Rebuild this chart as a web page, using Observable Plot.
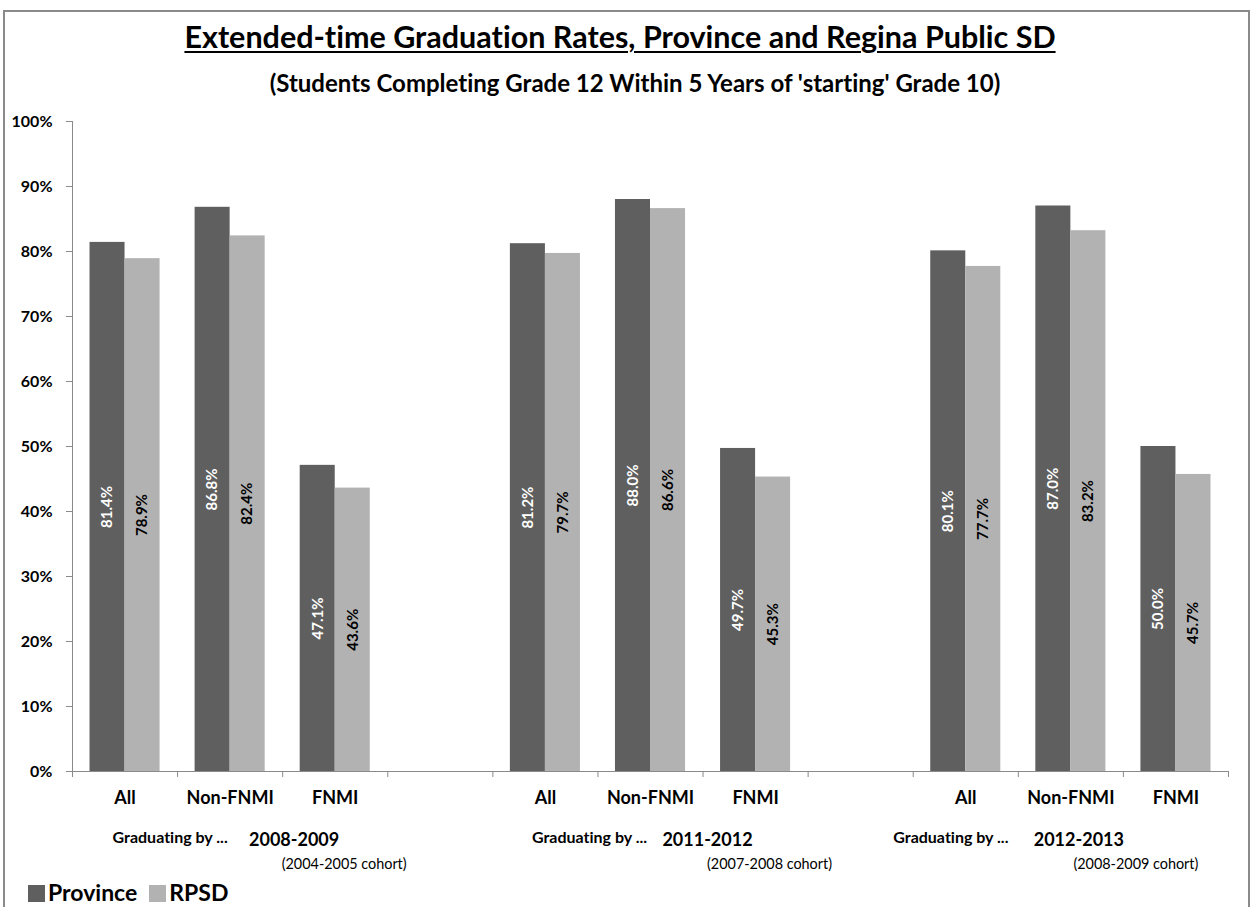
<!DOCTYPE html>
<html><head><meta charset="utf-8">
<script src="https://cdn.jsdelivr.net/npm/d3@7"></script>
<script src="https://cdn.jsdelivr.net/npm/@observablehq/plot@0.6"></script>
<style>
body{margin:0;background:#fff;width:1251px;height:907px;overflow:hidden;position:relative;font-family:Lato,"Open Sans",sans-serif;color:#000;font-variant-ligatures:none;font-feature-settings:"liga" 0;}
#frame{position:absolute;left:3px;top:10px;width:1247px;height:930px;border:2px solid #8a8a8a;box-sizing:border-box;z-index:10;pointer-events:none;}
#title{position:absolute;left:0;width:1240px;top:20px;line-height:32px;text-align:center;font-weight:bold;font-size:30.5px;text-decoration:underline;text-decoration-thickness:2px;text-underline-offset:3px;}
#subtitle{position:absolute;left:0;width:1270px;top:70px;line-height:26px;text-align:center;font-weight:bold;font-size:24px;}
#chart{position:absolute;left:0;top:100px;}
#chart svg text{font-variant-ligatures:none;}
#legend{position:absolute;left:28px;top:879px;font-weight:bold;font-size:23px;line-height:26px;white-space:nowrap;}
#legend span.sw{display:inline-block;width:17px;height:17px;vertical-align:-1px;margin-right:3px;}
#legend span.lab{margin-right:12px;}
</style>
</head><body>
<div id="title">Extended-time Graduation Rates, Province and Regina Public SD</div>
<div id="subtitle">(Students Completing Grade 12 Within 5 Years of 'starting' Grade 10)</div>
<div id="chart"></div>
<div id="legend"></div>
<div id="frame"></div>
<script>
// ---- data ----
const groups = ["2008-2009", "2011-2012", "2012-2013"];
const cohorts = ["(2004-2005 cohort)", "(2007-2008 cohort)", "(2008-2009 cohort)"];
const subgroups = ["All", "Non-FNMI", "FNMI"];
const series = ["Province", "RPSD"];
const province = [81.4, 86.8, 47.1, 81.2, 88.0, 49.7, 80.1, 87.0, 50.0];
const rpsd = [78.9, 82.4, 43.6, 79.7, 86.6, 45.3, 77.7, 83.2, 45.7];
const yTicks = [0, 10, 20, 30, 40, 50, 60, 70, 80, 90, 100];
const groupLead = "Graduating by ...";

// ---- layout / style (not data) ----
const colors = ["#5f5f5f", "#b2b2b2"];
const slotsPerGroup = 4; // 3 categories + 1 empty spacer
const nSlots = groups.length * slotsPerGroup - 1;
const groupLabelDx = [[-60, 64, 114], [-61, 57, 119], [-120, 8, 65]];

const rows = [];
groups.forEach((g, gi) => subgroups.forEach((s, si) => {
  const slot = gi * slotsPerGroup + si;
  rows.push({group: g, sub: s, slot, series: "Province", value: province[gi * 3 + si]});
  rows.push({group: g, sub: s, slot, series: "RPSD", value: rpsd[gi * 3 + si]});
}));
const offs = {Province: 1 / 6, RPSD: 1 / 2};
const provRows = rows.filter(d => d.series === "Province");
const rpsdRows = rows.filter(d => d.series === "RPSD");
const labelFont = "Lato";

const groupRows = groups.map((g, gi) => ({gi, year: g, cohort: cohorts[gi], center: gi * slotsPerGroup + 1.5}));
const groupMarks = [];
groupRows.forEach(d => {
  const dx = groupLabelDx[d.gi];
  groupMarks.push(Plot.text([d], {x: "center", y: () => 0, text: () => groupLead, dx: dx[0], dy: 66, fontSize: 16, fontWeight: "bold"}));
  groupMarks.push(Plot.text([d], {x: "center", y: () => 0, text: "year", dx: dx[1], dy: 69, fontSize: 18, fontWeight: "bold"}));
  groupMarks.push(Plot.text([d], {x: "center", y: () => 0, text: "cohort", dx: dx[2], dy: 93, fontSize: 14.4}));
});

const plot = Plot.plot({
  width: 1251,
  height: 775,
  marginLeft: 72,
  marginRight: 23,
  marginTop: 21,
  marginBottom: 104,
  style: {background: "transparent", fontFamily: "Lato, 'Open Sans', sans-serif", color: "#000"},
  x: {domain: [0, nSlots], axis: null, label: null},
  y: {domain: [0, 100], axis: null, label: null},
  color: {domain: series, range: colors},
  marks: [
    Plot.rect(rows, {x1: d => d.slot + offs[d.series], x2: d => d.slot + offs[d.series] + 1 / 3, y1: 0, y2: "value", fill: "series"}),
    Plot.text(provRows, {x: d => d.slot + offs.Province + 1 / 6, y: d => d.value / 2, text: d => d.value.toFixed(1) + "%", rotate: -90, fill: "white", fontSize: 15, fontWeight: "bold", fontFamily: labelFont}),
    Plot.text(rpsdRows, {x: d => d.slot + offs.RPSD + 1 / 6, y: d => d.value / 2, text: d => d.value.toFixed(1) + "%", rotate: -90, fill: "black", fontSize: 15, fontWeight: "bold", fontFamily: labelFont}),
    Plot.ruleY([0], {stroke: "#8a8a8a"}),
    Plot.ruleX([0], {y1: 0, y2: 100, stroke: "#8a8a8a"}),
    Plot.axisX(d3.range(0, nSlots + 1), {tickSize: 6, tickFormat: () => "", stroke: "#8a8a8a", label: null}),
    Plot.axisY(yTicks, {tickSize: 6, tickPadding: 14, tickFormat: d => d + "%", stroke: "#8a8a8a", fill: "#000", fontSize: 16, fontWeight: "bold", label: null}),
    Plot.text(provRows, {x: d => d.slot + 0.5, y: () => 0, text: "sub", dy: 27, fontSize: 18, fontWeight: "bold"}),
    ...groupMarks
  ]
});
document.getElementById("chart").appendChild(plot);

const legend = document.getElementById("legend");
series.forEach((s, i) => {
  const sw = document.createElement("span"); sw.className = "sw"; sw.style.background = colors[i];
  const lab = document.createElement("span"); lab.className = "lab"; lab.textContent = s;
  legend.appendChild(sw); legend.appendChild(lab);
});
</script>
</body></html>
